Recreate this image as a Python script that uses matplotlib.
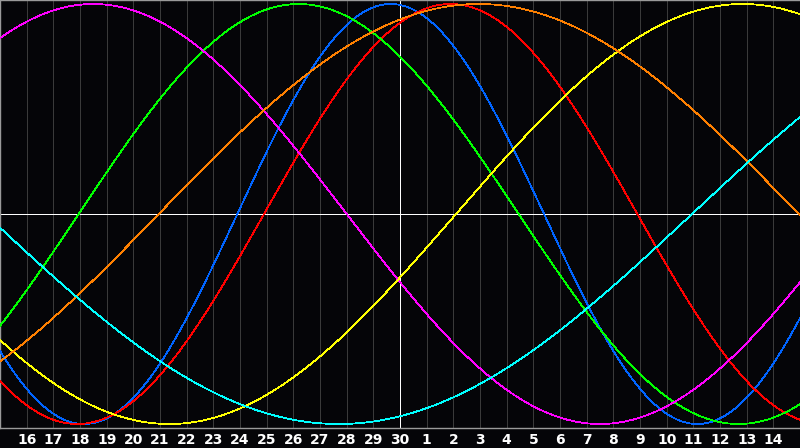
import numpy as np
import matplotlib
matplotlib.use("Agg")
import matplotlib.pyplot as plt

# biorhythm cycles: period (days) and chart day where each curve rises through zero
cycles = ["physical", "emotional", "intellectual", "intuitive", "aesthetic", "awareness", "spiritual"]
periods = [23, 28, 33, 38, 43, 48, 53]
rise_day = [8.9, 9.9, 2.95, -6.0, 17.1, 5.95, 25.95]
colors = ["#0064ff", "#ff0000", "#00ff00", "#ff00ff", "#ffff00", "#ff8000", "#00ffff"]

day_labels = [str(d) for d in range(16, 31)] + [str(d) for d in range(1, 15)]
today = 15  # chart day marked with the white line

bg = "#050508"
fig = plt.figure(figsize=(8, 4.48), dpi=100, facecolor=bg)
ax = fig.add_axes([0, 20 / 448, 1, 428 / 448], facecolor=bg)

days = np.linspace(0, 30, 801)
for p, r, c in zip(periods, rise_day, colors):
    ax.plot(days, np.sin(2 * np.pi * (days - r) / p), color=c, lw=0.55, antialiased=False, zorder=3)

ticks = list(range(1, 30))
for d in ticks:
    if d != today:
        ax.axvline(d, color="#3a3a3a", lw=0.6, antialiased=False, zorder=1)
ax.axvline(today, color="white", lw=0.6, antialiased=False, zorder=2)
ax.axhline(0, color="white", lw=0.6, antialiased=False, zorder=2)

ax.set_xlim(0, 30)
ax.set_ylim(-1.019, 1.019)
ax.set_xticks(ticks)
ax.set_xticklabels(day_labels)
ax.set_yticks([])
ax.tick_params(axis="x", length=0, pad=3.5, colors="white", labelsize=10)
for t in ax.get_xticklabels():
    t.set_fontweight("bold")
for s in ["left", "top", "bottom"]:
    ax.spines[s].set_color("#9a9a9a")
    ax.spines[s].set_linewidth(1.0)
ax.spines["right"].set_visible(False)

fig.savefig("out.png", dpi=100, facecolor=bg)
